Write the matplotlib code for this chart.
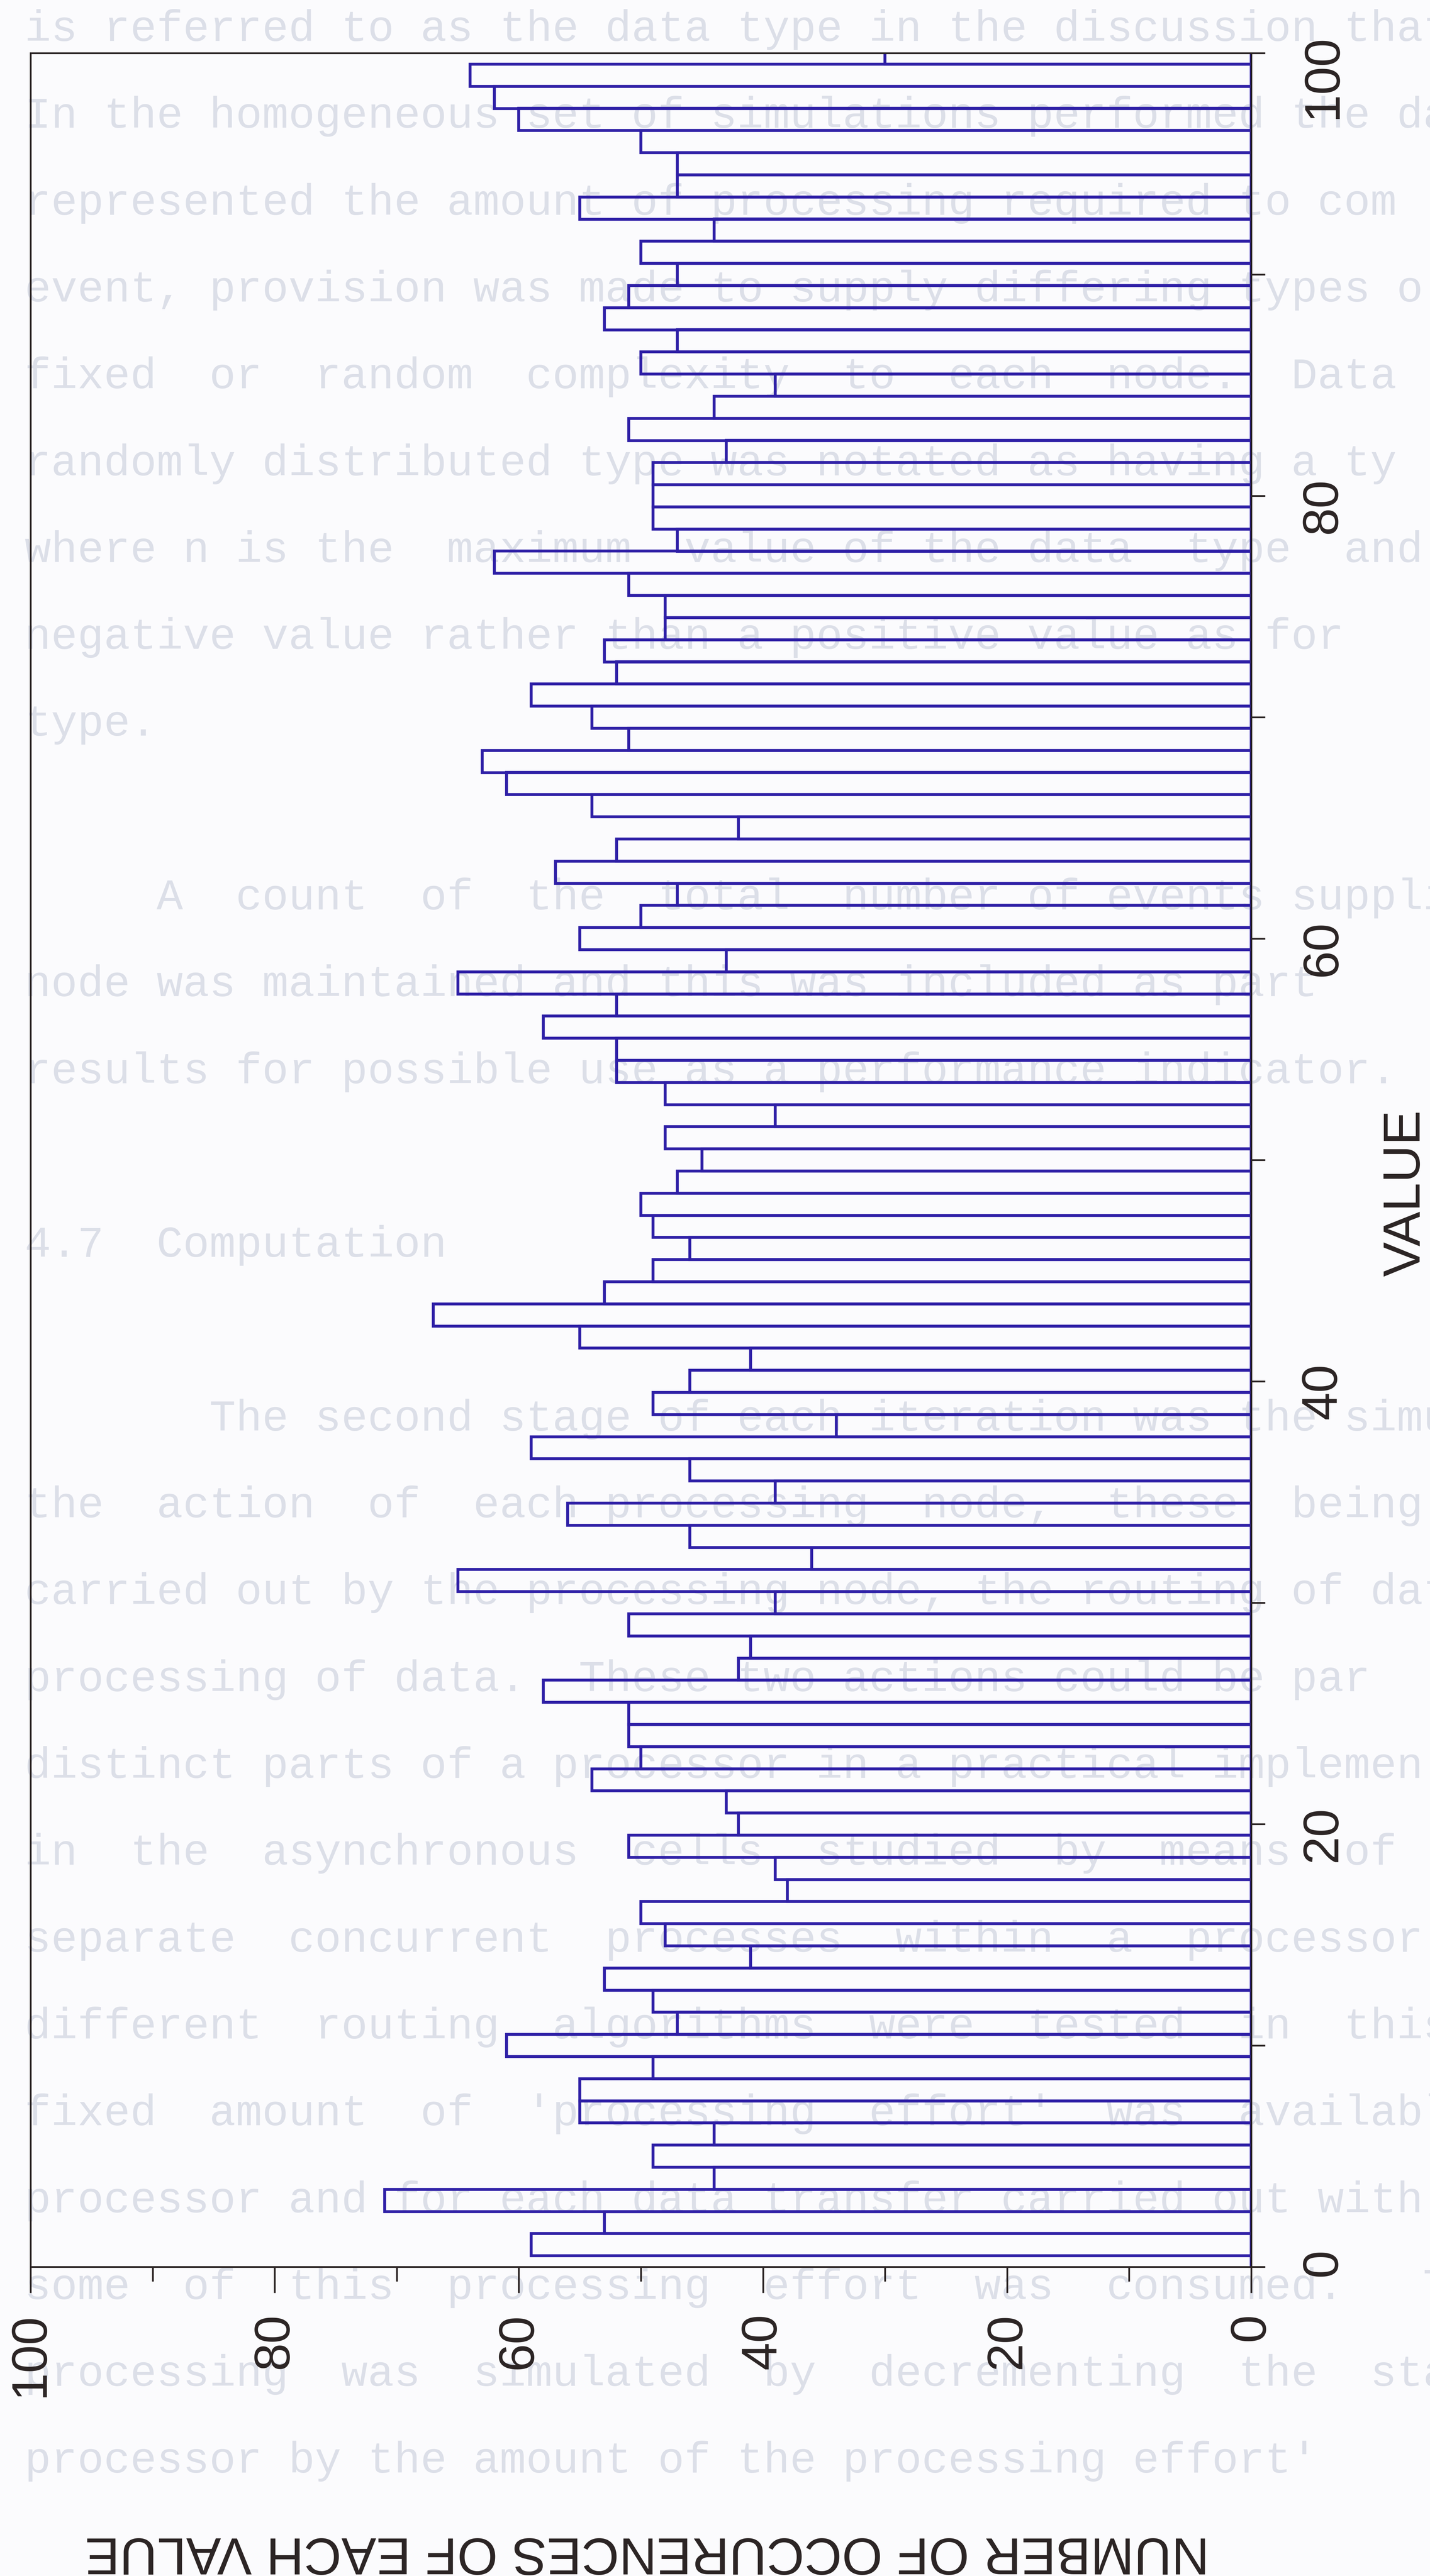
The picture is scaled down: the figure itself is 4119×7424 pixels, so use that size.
"""Distribution of generated data values: count of occurrences of each value 0-100.

Drawn sideways as on the thesis page: value runs up the right-hand axis, the
count grows leftwards from the right-hand spine. Faint typewritten page text sits
behind the plot.
"""
import matplotlib

matplotlib.use("Agg")
import matplotlib.pyplot as plt  # noqa: E402
import numpy as np  # noqa: E402

VALUES = np.arange(0, 101)
COUNTS = [
    0, 59, 53, 71, 44, 49, 44, 55, 55, 49,      # 0-9
    61, 47, 49, 53, 41, 48, 50, 38, 39, 51,     # 10-19
    42, 43, 54, 50, 51, 51, 58, 42, 41, 51,     # 20-29
    39, 65, 36, 46, 56, 39, 46, 59, 34, 49,     # 30-39
    46, 41, 55, 67, 53, 49, 46, 49, 50, 47,     # 40-49
    45, 48, 39, 48, 52, 52, 58, 52, 65, 43,     # 50-59
    55, 50, 47, 57, 52, 42, 54, 61, 63, 51,     # 60-69
    54, 59, 52, 53, 48, 48, 51, 62, 47, 49,     # 70-79
    49, 49, 43, 51, 44, 39, 50, 47, 53, 51,     # 80-89
    47, 50, 44, 55, 47, 47, 50, 60, 62, 64,     # 90-99
    30,                                         # 100
]
VALUE_TICKS = [0, 20, 40, 60, 80, 100]
VALUE_MINOR = [10, 30, 50, 70, 90]
COUNT_TICKS = [0, 20, 40, 60, 80, 100]
COUNT_MINOR = [10, 30, 50, 70, 90]

# typewritten page text, one entry per line ("" = blank line)
PAGE_LINES = [
    "is referred to as the data type in the discussion that",
    "In the homogeneous set of simulations performed the da",
    "represented the amount of processing required to com",
    "event, provision was made to supply differing types o",
    "fixed  or  random  complexity  to  each  node.  Data  o",
    "randomly distributed type was notated as having a ty",
    "where n is the  maximum  value of the data  type  and",
    "negative value rather than a positive value as for",
    "type.",
    "",
    "     A  count  of  the  total  number of events supplied",
    "node was maintained and this was included as part",
    "results for possible use as a performance indicator.",
    "",
    "4.7  Computation",
    "",
    "       The second stage of each iteration was the simu",
    "the  action  of  each processing  node,  these  being  two",
    "carried out by the processing node, the routing of dat",
    "processing of data.  These two actions could be par",
    "distinct parts of a processor in a practical implemen",
    "in  the  asynchronous  cells  studied  by  means  of  all",
    "separate  concurrent  processes  within  a  processor.",
    "different  routing  algorithms  were  tested  in  this  a",
    "fixed  amount  of  'processing  effort'  was  available",
    "processor and for each data transfer carried out with",
    "some  of  this  processing  effort  was  consumed.   The",
    "processing  was  simulated  by  decrementing  the  stat",
    "processor by the amount of the processing effort'",
]

BAR = "#2e1fa6"
INK = "#2b2424"
GHOST = "#dcdfe8"
W, H, DPI = 4119, 7424, 300


def main() -> None:
    fig = plt.figure(figsize=(W / DPI, H / DPI), dpi=DPI, facecolor="#fbfbfd")

    # faint page text behind everything
    for i, line in enumerate(PAGE_LINES):
        if line:
            fig.text(71 / W, 1 - (85 + 250.3 * i) / H, line, family="Liberation Mono",
                     fontsize=30.4, color=GHOST, ha="left", va="center", zorder=-1)

    ax = fig.add_axes([88 / W, 1 - 6533 / H, (3604 - 88) / W, (6533 - 153) / H])
    ax.patch.set_visible(False)

    ax.barh(VALUES, COUNTS, height=1.0, fill=False, edgecolor=BAR, linewidth=2.0)

    ax.set_xlim(100, 0)
    ax.set_ylim(0, 100)
    for sp in ax.spines.values():
        sp.set_color(INK)
        sp.set_linewidth(1.2)

    font = dict(family="Liberation Sans", color=INK)

    ax.yaxis.tick_right()
    ax.set_yticks(VALUE_TICKS)
    ax.set_yticks(VALUE_MINOR, minor=True)
    ax.set_yticklabels([str(v) for v in VALUE_TICKS], rotation=90, **font)
    ax.tick_params(axis="y", which="both", direction="out", length=9.6, width=1.2,
                   color=INK, pad=24, labelsize=34.8)

    ax.set_xticks(COUNT_TICKS)
    ax.set_xticks(COUNT_MINOR, minor=True)
    ax.set_xticklabels([str(c) for c in COUNT_TICKS], rotation=90, **font)
    ax.tick_params(axis="x", which="major", direction="out", length=18, width=1.2,
                   color=INK, pad=14, labelsize=34.8)
    ax.tick_params(axis="x", which="minor", direction="out", length=10, width=1.2,
                   color=INK)

    ax.set_xlabel("NUMBER OF OCCURENCES OF EACH VALUE", rotation=180, fontsize=36,
                  va="center", ha="center", **font)
    ax.xaxis.set_label_coords(0.505, -0.1285)
    ax.yaxis.set_label_position("right")
    ax.set_ylabel("VALUE", rotation=90, fontsize=36, va="center", ha="center", **font)
    ax.yaxis.set_label_coords(1.127, 0.485)

    fig.savefig("out.png", dpi=DPI, facecolor=fig.get_facecolor())


if __name__ == "__main__":
    main()
